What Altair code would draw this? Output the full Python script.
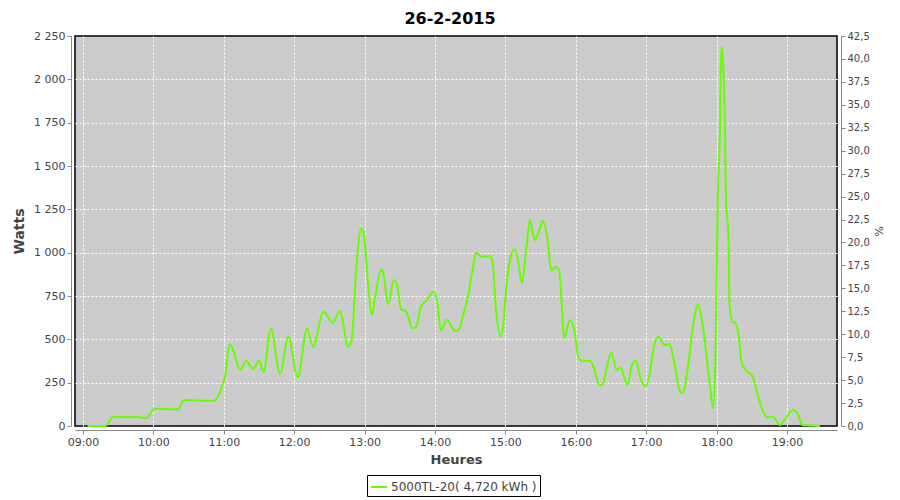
import altair as alt
import pandas as pd

# --- data -------------------------------------------------------------------
times = ["09:04", "09:19", "09:26", "09:48", "09:54", "10:01", "10:21", "10:26", "10:51", "10:58",
         "11:01", "11:05", "11:08", "11:14", "11:19", "11:25", "11:30", "11:34", "11:40", "11:48",
         "11:55", "12:03", "12:11", "12:16", "12:25", "12:33", "12:39", "12:46", "12:49", "12:53",
         "12:57", "12:59", "13:03", "13:06", "13:09", "13:14", "13:16", "13:20", "13:25", "13:28",
         "13:31", "13:35", "13:41", "13:44", "13:48", "13:53", "13:59", "14:02", "14:05", "14:10",
         "14:17", "14:20", "14:24", "14:28", "14:32", "14:35", "14:40", "14:46", "14:49", "14:52",
         "14:56", "14:58", "15:01", "15:05", "15:08", "15:11", "15:14", "15:18", "15:21", "15:25",
         "15:29", "15:32", "15:36", "15:39", "15:43", "15:46", "15:48", "15:50", "15:55", "15:59",
         "16:02", "16:05", "16:12", "16:16", "16:20", "16:23", "16:26", "16:30", "16:35", "16:38",
         "16:42", "16:44", "16:48", "16:51", "16:56", "17:00", "17:03", "17:06", "17:10", "17:16",
         "17:20", "17:24", "17:29", "17:31", "17:36", "17:40", "17:44", "17:47", "17:51", "17:54",
         "17:57", "17:59", "18:01", "18:03", "18:04", "18:05", "18:06", "18:07", "18:08", "18:10",
         "18:11", "18:14", "18:15", "18:19", "18:21", "18:25", "18:30", "18:34", "18:38", "18:44",
         "18:48", "18:54", "18:58", "19:05", "19:09", "19:13", "19:28"]
watts = [0, 0, 54, 50, 44, 100, 95, 150, 145, 217,
         284, 471, 438, 323, 376, 329, 376, 313, 563, 300,
         515, 281, 563, 457, 659, 596, 663, 457, 496, 918,
         1140, 1120, 823, 640, 745, 903, 880, 702, 842, 803,
         673, 663, 563, 572, 688, 726, 774, 707, 553, 611,
         549, 553, 640, 745, 899, 999, 976, 980, 947, 669,
         515, 572, 823, 986, 1019, 947, 826, 1034, 1188, 1072,
         1130, 1183, 1072, 899, 918, 890, 707, 506, 611, 544,
         400, 376, 376, 323, 236, 242, 323, 423, 323, 338,
         265, 236, 352, 376, 255, 231, 304, 438, 515, 467,
         473, 361, 198, 192, 361, 580, 700, 630, 430, 255,
         102, 380, 1322, 1745, 2187, 2148, 2033, 1774, 1300, 1111,
         700, 595, 600, 515, 375, 319, 294, 208, 111, 50,
         54, 6, 35, 92, 73, 6, 0]
series_name = "5000TL-20( 4,720 kWh )"
watt_ticks = [0, 250, 500, 750, 1000, 1250, 1500, 1750, 2000, 2250]
pct_ticks = [0, 2.5, 5, 7.5, 10, 12.5, 15, 17.5, 20, 22.5, 25, 27.5, 30, 32.5, 35, 37.5, 40, 42.5]
hour_ticks = [9, 10, 11, 12, 13, 14, 15, 16, 17, 18, 19]

df = pd.DataFrame({
    "time": ["2015-02-26T" + t + ":00" for t in times],
    "watts": watts,
    "serie": series_name,
})
pct_df = pd.DataFrame({
    "time": ["2015-02-26T09:00:00", "2015-02-26T19:00:00"],
    "pct": [0, 42.5],
})

FONT = "DejaVu Sans"
LABEL = "#444444"
AXISC = "#888888"


def dt(h, m=0, s=0):
    return alt.DateTime(year=2015, month=2, date=26, hours=h, minutes=m, seconds=s)


x_dom = [dt(8, 53, 12), dt(19, 42, 36)]

x_enc = alt.X(
    "time:T",
    scale=alt.Scale(domain=x_dom, nice=False),
    axis=alt.Axis(
        title="Heures", format="%H:%M", values=[dt(h) for h in hour_ticks],
        grid=True, gridColor="white", gridDash=[2, 2], gridWidth=1,
        domainColor=AXISC, tickColor=AXISC, tickSize=4, offset=4,
        labelFont=FONT, labelFontSize=11, labelColor=LABEL, labelPadding=2,
        titleFont=FONT, titleFontSize=13, titleFontWeight="bold", titleColor=LABEL,
        titlePadding=6,
    ),
)

line = alt.Chart(df).mark_line(strokeWidth=2, interpolate="monotone").encode(
    x=x_enc,
    y=alt.Y(
        "watts:Q",
        scale=alt.Scale(domain=[0, 2250], nice=False),
        axis=alt.Axis(
            title="Watts", values=watt_ticks,
            labelExpr="replace(format(datum.value, ','), ',', ' ')",
            grid=True, gridColor="white", gridDash=[2, 2], gridWidth=1,
            gridOpacity={"condition": {"test": "datum.value <= 0 || datum.value >= 2250", "value": 0},
                         "value": 1},
            domainColor=AXISC, tickColor=AXISC, tickSize=4, offset=4,
            labelFont=FONT, labelFontSize=11, labelColor=LABEL, labelPadding=2,
            titleFont=FONT, titleFontSize=14, titleFontWeight="bold", titleColor=LABEL,
            titlePadding=7,
        ),
    ),
    color=alt.Color(
        "serie:N",
        scale=alt.Scale(domain=[series_name], range=["#66FF00"]),
        title=None,
        legend=alt.Legend(
            orient="none", legendX=292, legendY=439,
            strokeColor="black", padding=3,
            symbolType="stroke", symbolStrokeWidth=2, symbolSize=256,
            labelFont=FONT, labelFontSize=12, labelColor=LABEL, labelOffset=3,
        ),
    ),
)

right = alt.Chart(pct_df).mark_point(opacity=0).encode(
    x=alt.X("time:T"),
    y=alt.Y(
        "pct:Q",
        scale=alt.Scale(domain=[0, 42.5], nice=False),
        axis=alt.Axis(
            orient="right", title="%", values=pct_ticks,
            labelExpr="replace(format(datum.value, '.1f'), '.', ',')",
            grid=False, domainColor=AXISC, tickColor=AXISC, tickSize=4, offset=4,
            labelFont=FONT, labelFontSize=10, labelColor=LABEL, labelPadding=2,
            titleFont=FONT, titleFontSize=11, titleFontWeight="normal", titleColor=LABEL,
            titlePadding=3,
        ),
    ),
)

chart = alt.layer(line, right).resolve_scale(y="independent").properties(
    width=762,
    height=390,
    padding={"left": 67, "top": 28, "right": 55, "bottom": 72},
    autosize=alt.AutoSizeParams(type="none"),
    title=alt.TitleParams(
        "26-2-2015", font=FONT, fontSize=16, fontWeight="bold", color="black",
        anchor="middle", offset=3, dx=-6,
    ),
).configure_view(fill="#CCCCCC", stroke="black", strokeWidth=1.5)

chart.save("out.html", embed_options={"renderer": "svg", "actions": False})
